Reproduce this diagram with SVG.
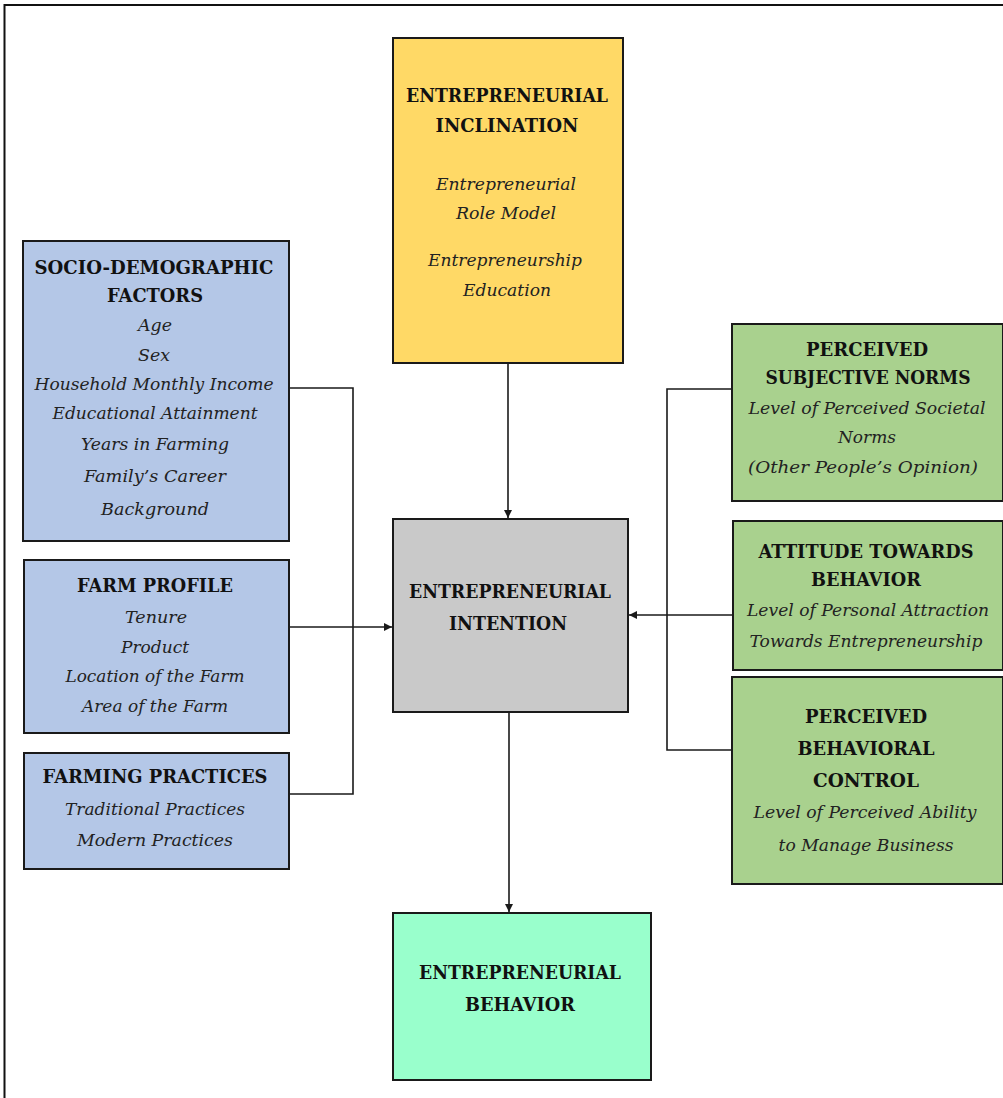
<svg xmlns="http://www.w3.org/2000/svg" width="1003" height="1098" viewBox="0 0 1003 1098">
  <style>
    .box { stroke: #1a1a1a; stroke-width: 2; }
    .yellow { fill: #FFD966; }
    .blue { fill: #B4C7E7; }
    .grey { fill: #C9C9C9; }
    .mint { fill: #99FFCC; }
    .green { fill: #A9D18E; }
    .title { font-family: "DejaVu Serif", "Liberation Serif", serif; font-weight: bold; font-size: 18px; fill: #111; text-anchor: middle; }
    .item { font-family: "DejaVu Serif", "Liberation Serif", serif; font-style: italic; font-size: 17px; fill: #222; text-anchor: middle; }
    .link { fill: none; stroke: #1a1a1a; stroke-width: 1.6; }
  </style>
  <defs>
    <marker id="arrow" viewBox="0 0 10 10" refX="10" refY="5" markerWidth="8" markerHeight="8" markerUnits="userSpaceOnUse" orient="auto">
      <path d="M0,0 L10,5 L0,10 z" fill="#1a1a1a"/>
    </marker>
  </defs>

  <rect x="0" y="0" width="1003" height="1098" fill="#ffffff"/>
  <!-- page frame -->
  <path d="M4.5,1098 V5 H1003" fill="none" stroke="#111" stroke-width="2"/>

  <g id="connectors">
    <!-- left bracket collecting the profile boxes -->
    <path class="link" d="M289,388 H353 V794 H289"/>
    <path class="link" d="M288,627 H392" marker-end="url(#arrow)"/>
    <!-- right bracket collecting the TPB boxes -->
    <path class="link" d="M732,389 H667 V750 H733"/>
    <path class="link" d="M733,615 H629" marker-end="url(#arrow)"/>
    <!-- inclination to intention -->
    <path class="link" d="M508,363 V518" marker-end="url(#arrow)"/>
    <!-- intention to behavior -->
    <path class="link" d="M509,712 V912" marker-end="url(#arrow)"/>
  </g>

  <g id="entrepreneurial-inclination">
    <rect class="box yellow" x="393" y="38" width="230" height="325"/>
    <text class="title" x="507" y="102" textLength="202" lengthAdjust="spacingAndGlyphs">ENTREPRENEURIAL</text>
    <text class="title" x="507" y="132" textLength="143" lengthAdjust="spacingAndGlyphs">INCLINATION</text>
    <text class="item" x="506" y="190" textLength="140" lengthAdjust="spacingAndGlyphs">Entrepreneurial</text>
    <text class="item" x="506" y="219" textLength="100" lengthAdjust="spacingAndGlyphs">Role Model</text>
    <text class="item" x="505" y="266" textLength="154" lengthAdjust="spacingAndGlyphs">Entrepreneurship</text>
    <text class="item" x="507" y="296" textLength="88" lengthAdjust="spacingAndGlyphs">Education</text>
  </g>

  <g id="socio-demographic-factors">
    <rect class="box blue" x="23" y="241" width="266" height="300"/>
    <text class="title" x="154" y="274" textLength="239" lengthAdjust="spacingAndGlyphs">SOCIO-DEMOGRAPHIC</text>
    <text class="title" x="155" y="302" textLength="96" lengthAdjust="spacingAndGlyphs">FACTORS</text>
    <text class="item" x="155" y="331" textLength="34" lengthAdjust="spacingAndGlyphs">Age</text>
    <text class="item" x="154" y="361" textLength="32" lengthAdjust="spacingAndGlyphs">Sex</text>
    <text class="item" x="154" y="390" textLength="239" lengthAdjust="spacingAndGlyphs">Household Monthly Income</text>
    <text class="item" x="155" y="419" textLength="205" lengthAdjust="spacingAndGlyphs">Educational Attainment</text>
    <text class="item" x="155" y="450" textLength="148" lengthAdjust="spacingAndGlyphs">Years in Farming</text>
    <text class="item" x="155" y="482" textLength="142" lengthAdjust="spacingAndGlyphs">Family’s Career</text>
    <text class="item" x="155" y="515" textLength="108" lengthAdjust="spacingAndGlyphs">Background</text>
  </g>

  <g id="farm-profile">
    <rect class="box blue" x="24" y="560" width="265" height="173"/>
    <text class="title" x="155" y="592" textLength="156" lengthAdjust="spacingAndGlyphs">FARM PROFILE</text>
    <text class="item" x="156" y="623" textLength="62" lengthAdjust="spacingAndGlyphs">Tenure</text>
    <text class="item" x="155" y="653" textLength="68" lengthAdjust="spacingAndGlyphs">Product</text>
    <text class="item" x="155" y="682" textLength="179" lengthAdjust="spacingAndGlyphs">Location of the Farm</text>
    <text class="item" x="155" y="712" textLength="146" lengthAdjust="spacingAndGlyphs">Area of the Farm</text>
  </g>

  <g id="farming-practices">
    <rect class="box blue" x="24" y="753" width="265" height="116"/>
    <text class="title" x="155" y="783" textLength="225" lengthAdjust="spacingAndGlyphs">FARMING PRACTICES</text>
    <text class="item" x="155" y="815" textLength="180" lengthAdjust="spacingAndGlyphs">Traditional Practices</text>
    <text class="item" x="155" y="846" textLength="156" lengthAdjust="spacingAndGlyphs">Modern Practices</text>
  </g>

  <g id="entrepreneurial-intention">
    <rect class="box grey" x="393" y="519" width="235" height="193"/>
    <text class="title" x="510" y="598" textLength="202" lengthAdjust="spacingAndGlyphs">ENTREPRENEURIAL</text>
    <text class="title" x="508" y="630" textLength="118" lengthAdjust="spacingAndGlyphs">INTENTION</text>
  </g>

  <g id="entrepreneurial-behavior">
    <rect class="box mint" x="393" y="913" width="258" height="167"/>
    <text class="title" x="520" y="979" textLength="202" lengthAdjust="spacingAndGlyphs">ENTREPRENEURIAL</text>
    <text class="title" x="520" y="1011" textLength="110" lengthAdjust="spacingAndGlyphs">BEHAVIOR</text>
  </g>

  <g id="perceived-subjective-norms">
    <rect class="box green" x="732" y="324" width="271" height="177"/>
    <text class="title" x="867" y="356" textLength="122" lengthAdjust="spacingAndGlyphs">PERCEIVED</text>
    <text class="title" x="868" y="384" textLength="205" lengthAdjust="spacingAndGlyphs">SUBJECTIVE NORMS</text>
    <text class="item" x="867" y="414" textLength="237" lengthAdjust="spacingAndGlyphs">Level of Perceived Societal</text>
    <text class="item" x="867" y="443" textLength="58" lengthAdjust="spacingAndGlyphs">Norms</text>
    <text class="item" x="863" y="473" textLength="230" lengthAdjust="spacingAndGlyphs">(Other People’s Opinion)</text>
  </g>

  <g id="attitude-towards-behavior">
    <rect class="box green" x="733" y="521" width="270" height="149"/>
    <text class="title" x="866" y="558" textLength="215" lengthAdjust="spacingAndGlyphs">ATTITUDE TOWARDS</text>
    <text class="title" x="866" y="586" textLength="110" lengthAdjust="spacingAndGlyphs">BEHAVIOR</text>
    <text class="item" x="868" y="616" textLength="242" lengthAdjust="spacingAndGlyphs">Level of Personal Attraction</text>
    <text class="item" x="866" y="647" textLength="233" lengthAdjust="spacingAndGlyphs">Towards Entrepreneurship</text>
  </g>

  <g id="perceived-behavioral-control">
    <rect class="box green" x="732" y="677" width="271" height="207"/>
    <text class="title" x="866" y="723" textLength="122" lengthAdjust="spacingAndGlyphs">PERCEIVED</text>
    <text class="title" x="866" y="755" textLength="137" lengthAdjust="spacingAndGlyphs">BEHAVIORAL</text>
    <text class="title" x="866" y="787" textLength="106" lengthAdjust="spacingAndGlyphs">CONTROL</text>
    <text class="item" x="865" y="818" textLength="223" lengthAdjust="spacingAndGlyphs">Level of Perceived Ability</text>
    <text class="item" x="866" y="851" textLength="175" lengthAdjust="spacingAndGlyphs">to Manage Business</text>
  </g>
</svg>
